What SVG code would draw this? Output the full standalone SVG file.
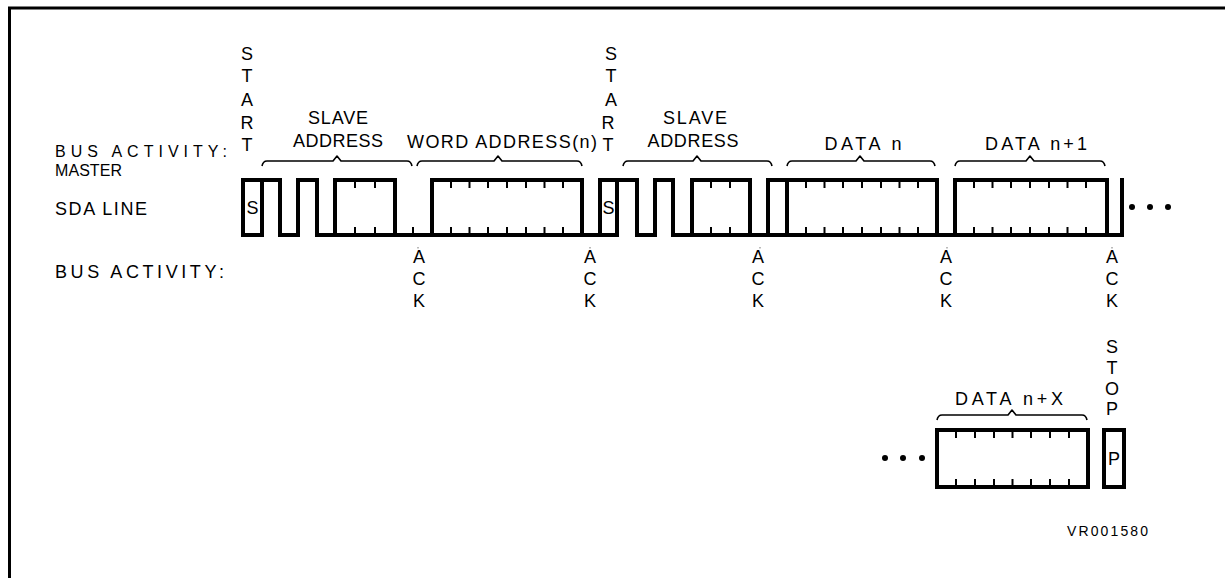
<svg xmlns="http://www.w3.org/2000/svg" width="1225" height="578" viewBox="0 0 1225 578">
<style>
text{font-family:"Liberation Sans","DejaVu Sans",Arial,sans-serif;font-size:18px;fill:#000}
.c{text-anchor:middle}
.s{font-size:16px}
.w{fill:none;stroke:#000;stroke-width:4;stroke-linecap:square;stroke-linejoin:miter}
.t{fill:none;stroke:#000;stroke-width:2}
.b{fill:none;stroke:#000;stroke-width:1.6;stroke-linejoin:round}
.d{fill:#000}
</style>
<rect width="1225" height="578" fill="#fff"/>
<g id="frame"><path d="M9.5,578 V8 H1225" fill="none" stroke="#000" stroke-width="3"/></g>

<g id="labels">
<text x="55" y="157" class="s" textLength="172" lengthAdjust="spacing">BUS ACTIVITY:</text>
<text x="55" y="176" class="s" textLength="67" lengthAdjust="spacing">MASTER</text>
<text x="55" y="215" textLength="92" lengthAdjust="spacing">SDA LINE</text>
<text x="55" y="278" textLength="169" lengthAdjust="spacing">BUS ACTIVITY:</text>
</g>

<g id="start1">
<text x="247" y="60" class="c">S</text><text x="247" y="82" class="c">T</text><text x="247" y="106" class="c">A</text><text x="247" y="129" class="c">R</text><text x="247" y="151" class="c">T</text>
</g>
<g id="start2">
<text x="611" y="60" class="c">S</text><text x="611" y="82" class="c">T</text><text x="611" y="106" class="c">A</text><text x="608" y="129" class="c">R</text><text x="608" y="151" class="c">T</text>
</g>

<g id="field-slave1">
<text x="338" y="124" class="c" textLength="60" lengthAdjust="spacing">SLAVE</text>
<text x="338" y="147" class="c" textLength="90" lengthAdjust="spacing">ADDRESS</text>
<path class="b" d="M262,166 Q263,161 267,161 H333 L337,156 L341,161 H407 Q411,161 412,166"/>
</g>
<g id="field-word">
<text x="502" y="148" class="c" textLength="190" lengthAdjust="spacing">WORD ADDRESS(n)</text>
<path class="b" d="M417,166 Q418,161 422,161 H494 L498,156 L502,161 H577 Q581,161 582,166"/>
</g>
<g id="field-slave2">
<text x="695" y="124" class="c" textLength="64" lengthAdjust="spacing">SLAVE</text>
<text x="693" y="147" class="c" textLength="91" lengthAdjust="spacing">ADDRESS</text>
<path class="b" d="M623,166 Q624,161 628,161 H693 L697,156 L701,161 H767 Q771,161 772,166"/>
</g>
<g id="field-datan">
<text x="863" y="150" class="c" textLength="77" lengthAdjust="spacing">DATA n</text>
<path class="b" d="M787,166 Q788,161 792,161 H856 L860,156 L864,161 H930 Q934,161 935,166"/>
</g>
<g id="field-datan1">
<text x="1036" y="150" class="c" textLength="102" lengthAdjust="spacing">DATA n+1</text>
<path class="b" d="M955,166 Q956,161 960,161 H1026 L1030,156 L1034,161 H1100 Q1104,161 1105,166"/>
</g>

<g id="sda-line">
<path class="w" d="M243,180 H280 M298,180 H317 M335,180 H395 M432,180 H582 M600,180 H637 M655,180 H673 M692,180 H750 M768,180 H937 M955,180 H1107"/>
<path class="w" d="M243,235 H262 M280,235 H298 M317,235 H617 M637,235 H655 M673,235 H1122"/>
<path class="w" d="M243,180 V235 M262,180 V235 M280,180 V235 M298,180 V235 M317,180 V235 M335,180 V235 M395,180 V235 M432,180 V235 M582,180 V235 M600,180 V235 M617,180 V235 M637,180 V235 M655,180 V235 M673,180 V235 M692,180 V235 M750,180 V235 M768,180 V235 M787,180 V235 M937,180 V235 M955,180 V235 M1107,180 V235 M1122,180 V235"/>
<path class="t" d="M355,180 V188 M355,227 V235 M375,180 V188 M375,227 V235 M413,227 V235
M451,180 V188 M451,227 V235 M469.5,180 V188 M469.5,227 V235 M488,180 V188 M488,227 V235 M507,180 V188 M507,227 V235 M526,180 V188 M526,227 V235 M544.5,180 V188 M544.5,227 V235 M563,180 V188 M563,227 V235
M711,180 V188 M711,227 V235 M730,180 V188 M730,227 V235
M806,180 V188 M806,227 V235 M824.5,180 V188 M824.5,227 V235 M843,180 V188 M843,227 V235 M862,180 V188 M862,227 V235 M881,180 V188 M881,227 V235 M899.5,180 V188 M899.5,227 V235 M918,180 V188 M918,227 V235
M974,180 V188 M974,227 V235 M992.5,180 V188 M992.5,227 V235 M1011,180 V188 M1011,227 V235 M1030,180 V188 M1030,227 V235 M1049,180 V188 M1049,227 V235 M1067.5,180 V188 M1067.5,227 V235 M1086,180 V188 M1086,227 V235"/>
<text x="252.5" y="214" class="c">S</text>
<text x="608.5" y="214" class="c">S</text>
<circle class="d" cx="1132" cy="207" r="3"/><circle class="d" cx="1150" cy="207" r="3"/><circle class="d" cx="1168" cy="207" r="3"/>
<path d="M418,247 V248.5 M590,247 V248.5 M760,247 V248.5 M947,247 V248.5 M1112,247 V248.5" stroke="#777" stroke-width="1"/>
</g>

<g id="acks">
<text x="419" y="263" class="c">A</text><text x="419" y="285" class="c">C</text><text x="419" y="307" class="c">K</text>
<text x="590" y="263" class="c">A</text><text x="590" y="285" class="c">C</text><text x="590" y="307" class="c">K</text>
<text x="758" y="263" class="c">A</text><text x="758" y="285" class="c">C</text><text x="758" y="307" class="c">K</text>
<text x="946" y="263" class="c">A</text><text x="946" y="285" class="c">C</text><text x="946" y="307" class="c">K</text>
<text x="1112" y="263" class="c">A</text><text x="1112" y="285" class="c">C</text><text x="1112" y="307" class="c">K</text>
</g>

<g id="stop">
<text x="1112" y="353" class="c">S</text><text x="1112" y="374" class="c">T</text><text x="1112" y="395" class="c">O</text><text x="1112" y="415" class="c">P</text>
</g>

<g id="field-datanx">
<text x="1009" y="405" class="c" textLength="108" lengthAdjust="spacing">DATA n+X</text>
<path class="b" d="M937,420 Q938,415 942,415 H1008 L1012,410 L1016,415 H1082 Q1086,415 1087,420"/>
</g>

<g id="sda-line-2">
<rect class="w" x="937" y="430" width="151" height="57"/>
<rect class="w" x="1104" y="430" width="20" height="57"/>
<path class="t" d="M956,430 V438 M956,479 V487 M975,430 V438 M975,479 V487 M994,430 V438 M994,479 V487 M1012.5,430 V438 M1012.5,479 V487 M1031,430 V438 M1031,479 V487 M1050,430 V438 M1050,479 V487 M1069,430 V438 M1069,479 V487"/>
<text x="1114" y="465" class="c">P</text>
<circle class="d" cx="885" cy="458" r="3"/><circle class="d" cx="903" cy="458" r="3"/><circle class="d" cx="922" cy="458" r="3"/>
</g>

<g id="ref"><text x="1067" y="536" style="font-size:14px" textLength="81" lengthAdjust="spacing">VR001580</text></g>
</svg>
